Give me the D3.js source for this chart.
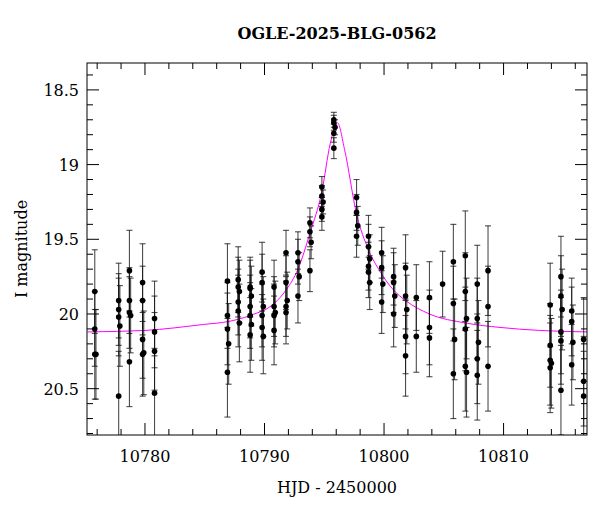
<!DOCTYPE html>
<html><head><meta charset="utf-8">
<script src="https://cdn.jsdelivr.net/npm/d3@7"></script>
<style>body{margin:0;background:#fff}</style>
</head><body><svg id="c" width="600" height="512"></svg>
<script>
const title = "OGLE-2025-BLG-0562";
const xLabel = "HJD - 2450000";
const yLabel = "I magnitude";
const xTicks = [10780, 10790, 10800, 10810];
const yTicks = [18.5, 19, 19.5, 20, 20.5];
const hjd = [
10775.8,10775.8,10775.8,10775.9,
10777.8,10777.8,10777.8,10777.9,10777.8,
10778.7,10778.7,10778.7,10778.8,10778.7,
10779.8,10779.8,10779.8,10779.9,10779.8,
10780.8,10780.8,10780.8,10780.8,
10786.9,10786.9,10786.9,10787.0,10786.9,
10787.8,10787.8,10787.9,10787.8,10787.8,10787.9,
10788.8,10788.8,10788.9,10788.8,10788.8,10788.9,10788.8,
10789.8,10789.8,10789.9,10789.8,10789.8,10789.9,
10790.8,10790.8,10790.9,10790.8,10790.8,
10791.8,10791.8,10791.9,10791.8,10791.8,
10792.8,10792.8,10792.9,10792.8,
10793.8,10793.8,10793.9,10793.8,
10794.8,10794.8,10794.9,10794.8,10794.8,
10795.8,10795.8,10795.9,10795.8,10795.8,
10797.7,10797.7,10797.8,10797.7,
10798.7,10798.7,10798.8,10798.7,10798.7,10798.8,
10799.8,10799.8,10799.9,10799.8,
10800.8,10800.8,10800.9,10800.8,
10801.8,10801.8,10801.9,10801.8,10801.8,
10802.7,10802.7,
10803.8,10803.8,10803.8,
10804.9,
10805.8,10805.8,10805.9,10805.8,
10806.8,10806.8,10806.9,10806.8,10806.8,10806.9,
10807.8,10807.8,10807.9,10807.8,10807.8,
10808.7,10808.7,10808.7,
10813.9,10813.9,10813.9,10814.0,10813.9,
10814.8,10814.8,10814.9,10814.8,10814.8,10814.8,
10815.7,10815.7,10815.8,10815.7,
10816.7,10816.7,10816.7];
const mag = [
19.85,20.10,20.27,20.27,
19.91,19.97,20.02,20.08,20.55,
19.71,19.91,19.99,20.01,20.32,
19.79,19.91,20.17,20.26,20.27,
20.03,20.12,20.25,20.53,
19.78,20.01,20.10,20.20,20.39,
19.77,19.82,19.85,19.92,19.98,20.06,
19.82,19.83,19.88,19.95,20.01,20.07,20.14,
19.72,19.79,19.95,20.01,20.09,20.15,
19.82,19.95,19.99,20.01,20.11,
19.59,19.79,19.91,19.95,19.99,
19.59,19.65,19.75,19.88,
19.39,19.45,19.52,19.71,
19.15,19.21,19.25,19.30,19.35,
18.70,18.72,18.75,18.79,18.89,
19.22,19.32,19.41,19.48,
19.48,19.55,19.63,19.68,19.72,19.79,
19.59,19.69,19.80,19.92,
19.75,19.79,19.88,20.00,
19.69,19.88,19.97,20.15,20.28,
19.89,20.15,
19.89,20.09,20.16,
19.80,
19.65,19.93,20.17,20.40,
19.61,19.85,20.03,20.10,20.35,20.39,
19.80,20.03,20.19,20.30,20.41,
19.71,19.95,20.35,
19.94,20.21,20.31,20.33,20.36,
19.75,19.88,19.97,20.12,20.18,20.51,
19.98,20.05,20.19,20.34,
20.17,20.45,20.55];
const magErr = [
0.28,0.25,0.30,0.30,
0.25,0.24,0.26,0.27,0.30,
0.27,0.22,0.24,0.25,0.30,
0.26,0.23,0.26,0.28,0.28,
0.25,0.24,0.26,0.30,
0.25,0.22,0.24,0.27,0.30,
0.22,0.20,0.21,0.22,0.24,0.26,
0.20,0.19,0.20,0.21,0.22,0.24,0.25,
0.20,0.19,0.20,0.21,0.22,0.25,
0.18,0.20,0.21,0.21,0.23,
0.15,0.18,0.19,0.20,0.21,
0.14,0.15,0.16,0.18,
0.10,0.10,0.11,0.14,
0.07,0.07,0.08,0.08,0.09,
0.05,0.05,0.05,0.06,0.07,
0.12,0.12,0.13,0.14,
0.14,0.15,0.16,0.16,0.17,0.18,
0.17,0.18,0.19,0.21,
0.19,0.20,0.21,0.22,
0.22,0.22,0.23,0.25,0.27,
0.22,0.24,
0.24,0.25,0.26,
0.22,
0.25,0.25,0.27,0.30,
0.30,0.26,0.27,0.28,0.30,0.30,
0.26,0.27,0.28,0.30,0.30,
0.30,0.27,0.30,
0.28,0.28,0.30,0.30,0.30,
0.27,0.27,0.27,0.28,0.29,0.30,
0.22,0.23,0.25,0.27,
0.28,0.30,0.30];
const modelT = [10775.2,10780,10784.9,10787,10788.8,10790.8,10791.8,10792.8,10793.8,10794.8,10795.5,10796.1,10796.7,10797.7,10798.7,10799.7,10800.8,10801.8,10803.8,10806.8,10809.7,10813,10817];
const modelMag = [20.12,20.11,20.07,20.05,20.01,19.93,19.84,19.70,19.46,19.18,18.86,18.72,18.90,19.33,19.57,19.72,19.84,19.91,20.00,20.06,20.09,20.11,20.12];

const svg = d3.select("#c");
const L=87,R=587,T=63,B=435;
const x = d3.scaleLinear().domain([10775.15,10816.98]).range([L,R]);
const y = d3.scaleLinear().domain([18.32,20.81]).range([T,B]);
const font = "'C059','Century Schoolbook L','DejaVu Serif',serif";
svg.append("clipPath").attr("id","cp").append("rect").attr("x",L).attr("y",T).attr("width",R-L).attr("height",B-T);
const g = svg.append("g").attr("clip-path","url(#cp)");

g.append("path").datum(modelT.map((t,i)=>[t,modelMag[i]]))
 .attr("d", d3.line().x(d=>x(d[0])).y(d=>y(d[1])).curve(d3.curveMonotoneX))
 .attr("fill","none").attr("stroke","#ff00ff").attr("stroke-width",1);

const pts = hjd.map((t,i)=>({t, m:mag[i], e:magErr[i]}));
const eb = g.append("g").attr("stroke","#111").attr("stroke-opacity",0.75).attr("stroke-width",1.1);
pts.forEach(p=>{
  const px=x(p.t), y1=y(p.m-p.e), y2=y(p.m+p.e);
  eb.append("line").attr("x1",px).attr("x2",px).attr("y1",y1).attr("y2",y2);
  eb.append("line").attr("x1",px-3).attr("x2",px+3).attr("y1",y1).attr("y2",y1);
  eb.append("line").attr("x1",px-3).attr("x2",px+3).attr("y1",y2).attr("y2",y2);
});
g.append("g").selectAll("circle").data(pts).join("circle")
 .attr("cx",d=>x(d.t)).attr("cy",d=>y(d.m)).attr("r",2.8).attr("fill","#000");

svg.append("rect").attr("x",L).attr("y",T).attr("width",R-L).attr("height",B-T).attr("fill","none").attr("stroke","#000").attr("stroke-width",1);
const tk = svg.append("g").attr("stroke","#000").attr("stroke-width",1);
d3.range(10776,10817,2).forEach(v=>{
  const major = v%10===0, len = major?12:6, px=x(v);
  tk.append("line").attr("x1",px).attr("x2",px).attr("y1",B).attr("y2",B-len);
  tk.append("line").attr("x1",px).attr("x2",px).attr("y1",T).attr("y2",T+len);
});
d3.range(18.4,20.81,0.1).forEach(v=>{
  const major = Math.abs(v*2-Math.round(v*2))<1e-6, len = major?12:6, py=y(v);
  tk.append("line").attr("x1",L).attr("x2",L+len).attr("y1",py).attr("y2",py);
  tk.append("line").attr("x1",R).attr("x2",R-len).attr("y1",py).attr("y2",py);
});
svg.append("g").selectAll("text").data(xTicks).join("text")
 .attr("x",d=>x(d)).attr("y",B+27).attr("text-anchor","middle")
 .attr("font-family",font).attr("font-size",16).text(d=>d);
svg.append("g").selectAll("text").data(yTicks).join("text")
 .attr("x",L-8).attr("y",d=>y(d)+6).attr("text-anchor","end")
 .attr("font-family",font).attr("font-size",16).text(d=>d);
svg.append("text").attr("x",(L+R)/2).attr("y",39).attr("text-anchor","middle")
 .attr("font-family",font).attr("font-size",16).attr("font-weight","bold").text(title);
svg.append("text").attr("x",(L+R)/2).attr("y",B+58).attr("text-anchor","middle")
 .attr("font-family",font).attr("font-size",16).text(xLabel);
svg.append("text").attr("transform",`translate(27,${(T+B)/2}) rotate(-90)`).attr("text-anchor","middle")
 .attr("font-family",font).attr("font-size",16).text(yLabel);
</script></body></html>
